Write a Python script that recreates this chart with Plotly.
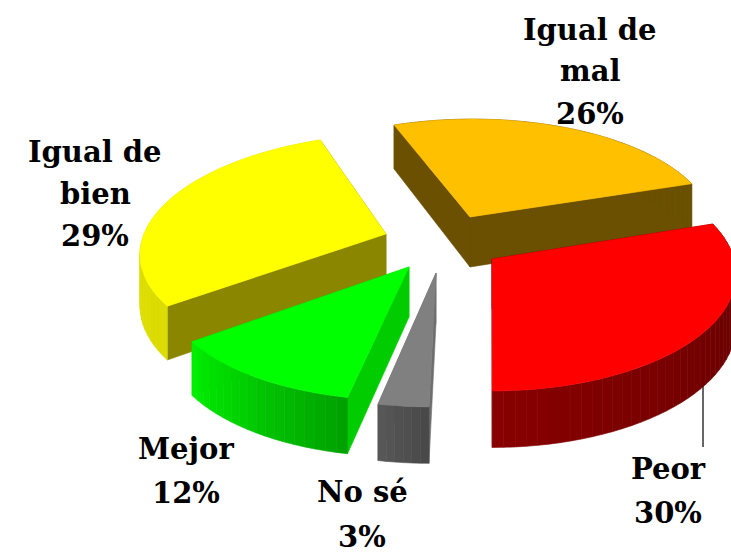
import math
import plotly.graph_objects as go

# ---- data ----
categories = ["Peor", "Igual de mal", "Igual de bien", "Mejor", "No sé"]
label_lines = [["Peor"], ["Igual de", "mal"], ["Igual de", "bien"], ["Mejor"], ["No sé"]]
values = [30, 26, 29, 12, 3]

# ---- styling / layout constants ----
W, H = 731, 554
top_colors = ["#FF0000", "#FFC000", "#FFFF00", "#00FF00", "#808080"]
cut_colors = ["#640000", "#6A5000", "#8A8600", "#00CC00", "#6E6E6E"]
side_from = ["#880000", "#6A5000", "#E2E200", "#00F000", "#585858"]
side_to = ["#5E0000", "#6A5000", "#DCDC00", "#00A000", "#484848"]
apex = [(492, 259), (470, 217), (386, 234), (409, 267), (436, 273)]
draw_order = [1, 2, 0, 3, 4]
label_pos = [
    [(668, 469), (668, 513)],
    [(590, 30), (590, 71), (590, 114)],
    [(95, 152), (95, 194), (95, 236)],
    [(186, 449), (186, 493)],
    [(362, 492), (362, 537)],
]
RX, RY, DEPTH, PERSP, CX, CY = 242, 110, 50, 0.13, 490, 200
FONT = "DejaVu Serif"
FONT_SIZE = 29


def project(ax, ay, t, r=1.0, z=0.0):
    u, v = r * math.sin(t), r * math.cos(t)
    s = 1 + PERSP * v
    return (CX + (ax - CX + RX * u) * s, CY + (ay - CY + RY * v + DEPTH * z) * s)


def mix(c1, c2, f):
    a = [int(c1[i:i + 2], 16) for i in (1, 3, 5)]
    b = [int(c2[i:i + 2], 16) for i in (1, 3, 5)]
    return "rgb(%d,%d,%d)" % tuple(round(p + (q - p) * f) for p, q in zip(a, b))


def poly(points, color):
    xs = [p[0] for p in points] + [points[0][0]]
    ys = [p[1] for p in points] + [points[0][1]]
    return go.Scatter(x=xs, y=ys, mode="lines", fill="toself", fillcolor=color,
                      line=dict(color=color, width=0.6), hoverinfo="skip", showlegend=False)


fig = go.Figure()
# leader line of the "Peor" label
fig.add_trace(go.Scatter(x=[703, 703], y=[380, 447], mode="lines",
                         line=dict(color="#333333", width=1.5), hoverinfo="skip", showlegend=False))

total = sum(values)
starts, acc = [], 0
for v in values:
    starts.append(acc)
    acc += v

for i in draw_order:
    ax, ay = apex[i]
    t0 = 2 * math.pi * starts[i] / total
    t1 = 2 * math.pi * (starts[i] + values[i]) / total
    n = max(6, int(values[i] * 1.5))
    ts = [t0 + (t1 - t0) * k / n for k in range(n + 1)]
    # cut faces
    for t in (t0, t1):
        fig.add_trace(poly([project(ax, ay, t, 0), project(ax, ay, t, 1),
                            project(ax, ay, t, 1, 1), project(ax, ay, t, 0, 1)], cut_colors[i]))
    # outer rim in narrow strips so the shading changes along it
    for k in range(n):
        col = mix(side_from[i], side_to[i], (k + 0.5) / n)
        fig.add_trace(poly([project(ax, ay, ts[k]), project(ax, ay, ts[k + 1]),
                            project(ax, ay, ts[k + 1], 1, 1), project(ax, ay, ts[k], 1, 1)], col))
    # top face
    fig.add_trace(poly([project(ax, ay, t0, 0)] + [project(ax, ay, t) for t in ts], top_colors[i]))

annotations = []
for i, lines in enumerate(label_lines):
    texts = lines + [f"{values[i]}%"]
    for text, (x, y) in zip(texts, label_pos[i]):
        annotations.append(dict(x=x, y=y, xref="x", yref="y", text=f"<b>{text}</b>", showarrow=False,
                                xanchor="center", yanchor="middle",
                                font=dict(family=FONT, size=FONT_SIZE, color="black")))

fig.update_layout(
    width=W, height=H, margin=dict(l=0, r=0, t=0, b=0),
    paper_bgcolor="white", plot_bgcolor="white", showlegend=False,
    xaxis=dict(range=[0, W], visible=False, fixedrange=True),
    yaxis=dict(range=[H, 0], visible=False, fixedrange=True),
    annotations=annotations,
)
fig.write_html("out.html", post_script="document.body.style.margin='0';document.body.style.overflow='hidden';",
               config={"displayModeBar": False})
